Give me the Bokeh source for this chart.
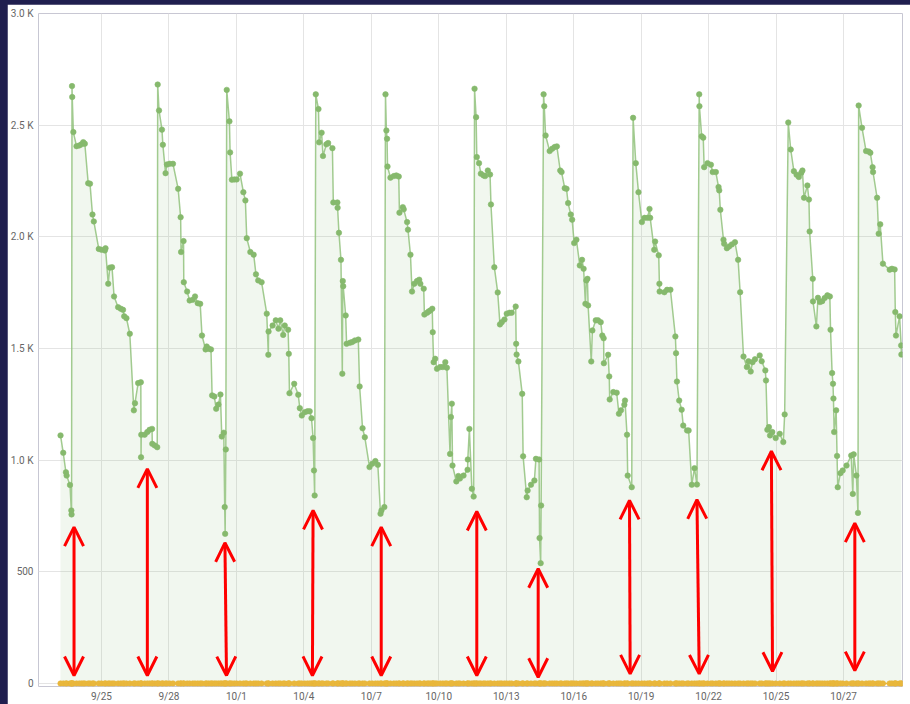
from bokeh.plotting import figure
from bokeh.models import ColumnDataSource, FixedTicker, Arrow, OpenHead, Range1d, GlobalInlineStyleSheet
from bokeh.embed import file_html
from bokeh.resources import INLINE

# ---- data (x = days since 9/25) ----
green_days = [
    -1.82, -1.70, -1.58, -1.55, -1.40, -1.34, -1.33, -1.31, -1.30, -1.25, -1.11, -0.99, -0.89, -0.81, -0.74,
    -0.59, -0.51, -0.40, -0.34, -0.12, 0.00, 0.15, 0.18, 0.30, 0.37, 0.47, 0.56, 0.74, 0.86, 0.96, 1.01, 1.11,
    1.26, 1.44, 1.49, 1.63, 1.75, 1.76, 1.77, 1.92, 2.04, 2.14, 2.25, 2.26, 2.37, 2.48, 2.50,
    2.56, 2.69, 2.73, 2.85, 2.91, 3.03, 3.18, 3.41, 3.52, 3.54, 3.65, 3.66, 3.81, 3.92, 4.06, 4.16, 4.28, 4.39,
    4.47, 4.63, 4.68, 4.77, 4.87, 4.92, 5.02, 5.10, 5.20, 5.29, 5.35, 5.44, 5.48, 5.50, 5.53, 5.57,
    5.69, 5.72, 5.80, 5.91, 6.01, 6.16, 6.31, 6.40, 6.46, 6.62, 6.77, 6.87, 6.97, 7.12, 7.35, 7.42, 7.43, 7.61,
    7.75, 7.87, 7.95, 8.08, 8.15, 8.30, 8.33, 8.36, 8.57, 8.75, 8.82, 8.91, 9.04, 9.16, 9.26, 9.34, 9.41, 9.45,
    9.48, 9.53,
    9.65, 9.68, 9.79, 9.85, 10.00, 10.08, 10.27, 10.31, 10.49, 10.50, 10.56, 10.65, 10.71, 10.73, 10.75, 10.86,
    10.90, 11.05, 11.15, 11.27, 11.42, 11.48, 11.61, 11.71, 11.92, 12.04, 12.18, 12.29, 12.41, 12.45, 12.58, 12.63,
    12.67, 12.70, 12.72, 12.85, 13.00, 13.11, 13.22, 13.25, 13.40, 13.44, 13.59, 13.63, 13.74, 13.81, 13.91, 14.03,
    14.13, 14.18, 14.33, 14.36, 14.48, 14.55, 14.62, 14.71, 14.73, 14.77, 14.84, 14.92, 15.06, 15.18, 15.29, 15.36,
    15.50, 15.54, 15.58, 15.61, 15.78, 15.87, 15.94, 16.10, 16.28, 16.29, 16.36, 16.47, 16.55, 16.59,
    16.66, 16.69, 16.79, 16.87, 16.99, 17.06, 17.18, 17.28, 17.32, 17.47, 17.62, 17.72, 17.80, 17.92, 18.02, 18.14,
    18.24, 18.42, 18.44, 18.46, 18.54, 18.71, 18.75, 18.91, 18.95, 19.10, 19.25, 19.32, 19.46, 19.48, 19.53, 19.55,
    19.66,
    19.69, 19.75, 19.93, 20.04, 20.15, 20.25, 20.40, 20.46, 20.60, 20.68, 20.75, 20.87, 20.93, 21.02, 21.12, 21.27,
    21.37, 21.44, 21.52, 21.56, 21.61, 21.64, 21.78, 21.83, 21.98, 22.08, 22.20, 22.27, 22.33, 22.34, 22.53, 22.58,
    22.60, 22.76, 22.91, 23.01, 23.10, 23.25, 23.28, 23.37, 23.40, 23.58, 23.64,
    23.76, 23.88, 24.03, 24.15, 24.28, 24.37, 24.40, 24.58, 24.62, 24.78, 24.81, 24.82, 25.03, 25.15, 25.30, 25.52,
    25.55, 25.59, 25.69, 25.80, 25.87, 26.04, 26.11, 26.25, 26.37, 26.48, 26.58,
    26.59, 26.69, 26.76, 26.80, 26.95, 27.10, 27.18, 27.32, 27.44, 27.47, 27.52, 27.66, 27.69, 27.81, 27.91, 28.03,
    28.17, 28.31, 28.40, 28.55, 28.70, 28.77, 28.87, 28.95, 29.06, 29.27, 29.36, 29.52, 29.55, 29.61, 29.68, 29.73,
    29.83, 29.98, 30.16, 30.32, 30.38, 30.54,
    30.65, 30.79, 30.91, 31.01, 31.12, 31.17, 31.24, 31.39, 31.46, 31.49, 31.63, 31.64, 31.79, 31.86, 31.95, 32.05,
    32.16, 32.28, 32.39, 32.42, 32.49, 32.53, 32.55, 32.58, 32.67, 32.71, 32.74, 32.86, 32.96, 33.13, 33.34, 33.41,
    33.45, 33.57, 33.64, 33.67,
    33.82, 34.00, 34.12, 34.19, 34.29, 34.31, 34.49, 34.56, 34.63, 34.75, 35.05, 35.15, 35.27, 35.30, 35.33, 35.49,
    35.56, 35.57,
]
green_vals = [
    1111, 1033, 946, 931, 889, 775, 757, 2675, 2626, 2469, 2406, 2409, 2414, 2424, 2417,
    2240, 2238, 2100, 2069, 1946, 1942, 1939, 1949, 1790, 1862, 1864, 1733, 1685, 1678, 1673, 1644, 1636,
    1566, 1223, 1255, 1345, 1349, 1013, 1114, 1114, 1126, 1136, 1140, 1073, 1066, 1058, 2682,
    2566, 2480, 2412, 2285, 2324, 2327, 2327, 2215, 2088, 1932, 1981, 1797, 1755, 1715, 1718, 1733, 1703, 1700,
    1558, 1496, 1509, 1499, 1496, 1290, 1285, 1230, 1249, 1294, 1106, 1123, 790, 670, 1048, 2658,
    2517, 2378, 2256, 2257, 2257, 2283, 2200, 2163, 1994, 1932, 1920, 1832, 1805, 1797, 1656, 1472, 1576, 1603,
    1626, 1589, 1626, 1561, 1603, 1584, 1476, 1300, 1342, 1293, 1233, 1200, 1215, 1219, 1219, 1188, 1099, 954,
    842, 2638,
    2572, 2423, 2466, 2362, 2414, 2420, 2397, 2154, 2154, 2130, 2018, 1897, 1387, 1802, 1779, 1648,
    1521, 1526, 1529, 1536, 1540, 1330, 1143, 1103, 969, 984, 996, 979, 760, 775, 790, 2638,
    2476, 2439, 2315, 2265, 2272, 2275, 2270, 2108, 2133, 2123, 2066, 2032, 1920, 1755, 1790, 1802,
    1808, 1790, 1768, 1652, 1660, 1666, 1670, 1678, 1573, 1439, 1454, 1409, 1417, 1417, 1439, 1414,
    1028, 1193, 1253, 976, 905, 929, 918, 931, 957, 1003, 1140, 872, 837, 2663,
    2536, 2357, 2330, 2283, 2275, 2272, 2297, 2279, 2145, 1864, 1751, 1608, 1618, 1630, 1656, 1660,
    1660, 1688, 1521, 1473, 1442, 1297, 1017, 834, 864, 890, 909, 1006, 1003, 651, 539, 797,
    2638,
    2585, 2454, 2384, 2394, 2402, 2405, 2297, 2290, 2218, 2215, 2151, 2100, 2077, 1972, 1987, 1872,
    1897, 1857, 1700, 1805, 1812, 1693, 1442, 1581, 1626, 1626, 1618, 1558, 1546, 1434, 1472, 1375,
    1272, 1305, 1302, 1208, 1223, 1248, 1267, 1114, 931, 879, 2533,
    2330, 2200, 2066, 2085, 2085, 2125, 2085, 1942, 1979, 1917, 1790, 1755, 1752, 1763, 1763, 1554,
    1479, 1352, 1267, 1226, 1155, 1133, 1133, 890, 964, 891, 2638,
    2585, 2450, 2444, 2312, 2330, 2323, 2290, 2290, 2223, 2208, 2121, 1987, 1969, 1949, 1957, 1966,
    1976, 1897, 1752, 1464, 1417, 1443, 1397, 1439, 1452, 1469, 1443, 1402, 1357, 1136, 1148, 1111,
    1126, 1099, 1118, 1081, 1205, 2512,
    2391, 2294, 2278, 2268, 2287, 2297, 2175, 2230, 2167, 2024, 1812, 1711, 1599, 1727, 1708, 1712,
    1726, 1738, 1733, 1584, 1390, 1342, 1276, 1126, 1223, 1019, 879, 942, 954, 976, 1021, 849,
    1026, 931, 764, 2588,
    2488, 2384, 2382, 2376, 2312, 2290, 2175, 2014, 2056, 1880, 1853, 1857, 1854, 1663, 1558, 1644,
    1514, 1473,
]
# the second (yellow) series sits on zero at every timestamp
yellow_vals = [0 for _ in green_days]

# red double-headed arrows
arrow_x_top = [-1.22, 2.04, 5.49, 9.41, 12.44, 16.69, 19.42, 23.48, 26.48, 29.79, 33.50]
arrow_x_bottom = [-1.22, 2.04, 5.56, 9.38, 12.44, 16.69, 19.42, 23.51, 26.58, 29.84, 33.50]
arrow_top = [700, 961, 630, 775, 700, 770, 514, 820, 823, 1040, 718]
arrow_bottom = [36, 36, 36, 36, 36, 36, 28, 43, 43, 55, 58]

x_ticks = [0, 3, 6, 9, 12, 15, 18, 21, 24, 27, 30, 33]
x_tick_labels = ["9/25", "9/28", "10/1", "10/4", "10/7", "10/10", "10/13", "10/16",
                 "10/19", "10/22", "10/25", "10/27"]
y_ticks = [0, 500, 1000, 1500, 2000, 2500, 3000]
y_tick_labels = ["0", "500", "1.0 K", "1.5 K", "2.0 K", "2.5 K", "3.0 K"]

# ---- figure ----
p = figure(width=903, height=700, x_range=Range1d(-2.8, 35.62), y_range=Range1d(-13.4, 3000),
           output_backend="svg", toolbar_location=None,
           min_border_left=28, min_border_right=8, min_border_top=9, min_border_bottom=18)
p.outline_line_color = None
p.background_fill_color = "white"
p.border_fill_color = "white"
p.stylesheets = [GlobalInlineStyleSheet(css=(
    "html, body { margin: 0 !important; padding: 0; overflow: hidden; background: #201f4f; }"
    " body { padding: 4px 0 0 7px !important; box-sizing: border-box; width: 910px; height: 704px; }"
))]

src = ColumnDataSource(dict(x=green_days, y=green_vals, z=yellow_vals))
p.varea(x="x", y1="z", y2="y", source=src, fill_color="#7fb86a", fill_alpha=0.11)
p.line(x="x", y="y", source=src, line_color="#92c27c", line_width=1.5, line_alpha=0.85)
p.scatter(x="x", y="y", source=src, size=5.5, fill_color="#86b96d", line_color="#86b96d", line_alpha=0.6)
p.line(x="x", y="z", source=src, line_color="#e9b73c", line_width=1.5)
p.scatter(x="x", y="z", source=src, size=5.5, fill_color="#e9b73c", line_color="#e9b73c", line_alpha=0.6)

asrc = ColumnDataSource(dict(x0=arrow_x_bottom, y0=arrow_bottom, x1=arrow_x_top, y1=arrow_top))
p.add_layout(Arrow(start=OpenHead(size=19, line_color="#ff0000", line_width=3),
                   end=OpenHead(size=19, line_color="#ff0000", line_width=3),
                   x_start="x0", y_start="y0", x_end="x1", y_end="y1", source=asrc,
                   line_color="#ff0000", line_width=3))

p.xaxis.ticker = FixedTicker(ticks=x_ticks)
p.xaxis.major_label_overrides = {t: l for t, l in zip(x_ticks, x_tick_labels)}
p.yaxis.ticker = FixedTicker(ticks=y_ticks)
p.yaxis.major_label_overrides = {t: l for t, l in zip(y_ticks, y_tick_labels)}
p.xgrid.ticker = FixedTicker(ticks=x_ticks)
p.ygrid.ticker = FixedTicker(ticks=y_ticks)
for ax in (p.xaxis, p.yaxis):
    ax.axis_line_color = None
    ax.major_tick_line_color = None
    ax.minor_tick_line_color = None
    ax.major_tick_out = 0
    ax.major_tick_in = 0
    ax.minor_tick_out = 0
    ax.minor_tick_in = 0
    ax.major_label_text_font = "Roboto"
    ax.major_label_text_font_size = "10px"
    ax.major_label_text_color = "#666666"
p.xaxis.major_label_standoff = 4
p.yaxis.major_label_standoff = 5
p.xgrid.grid_line_color = "#e4e4e4"
p.ygrid.grid_line_color = "#e4e4e4"

open("out.html", "w").write(file_html(p, INLINE))
